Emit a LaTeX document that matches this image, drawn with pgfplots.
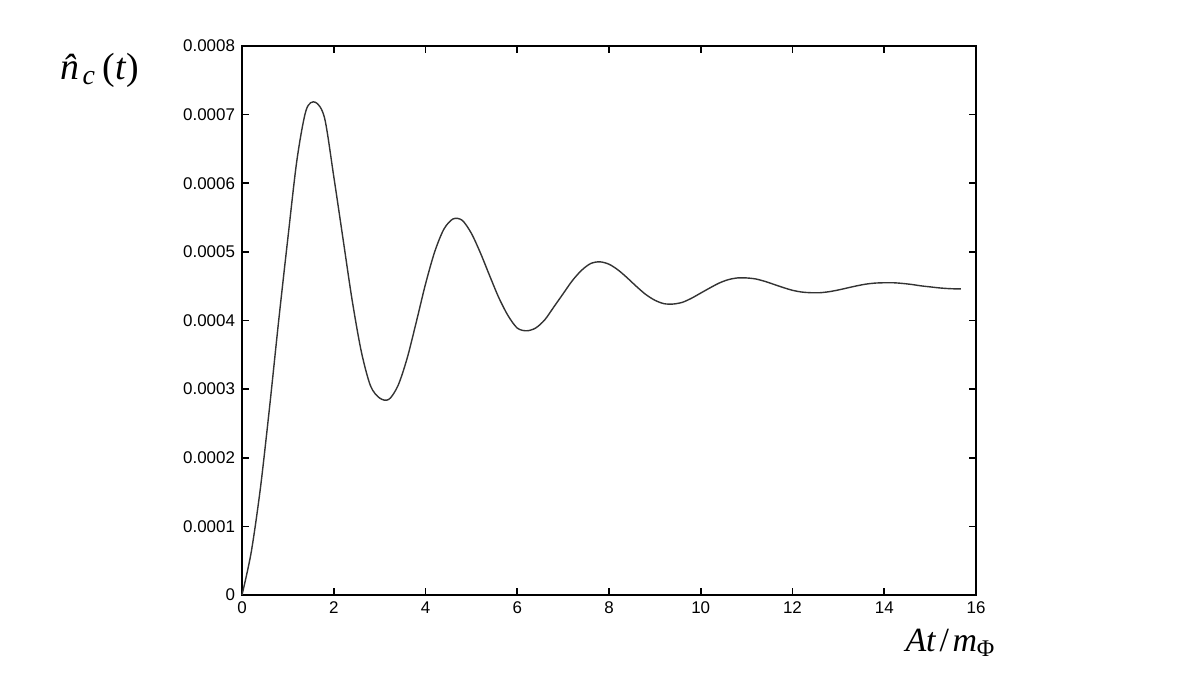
\documentclass[border=0pt]{standalone}
\usepackage{fontspec}
\setmainfont{Liberation Sans}
\newfontfamily\timesfont{Liberation Serif}
\usepackage{pgfplots}
\pgfplotsset{compat=1.18}

\begin{document}
\begin{tikzpicture}
\begin{axis}[
  scale only axis,
  width=367bp, height=274.5bp,
  xmin=0, xmax=16, ymin=0, ymax=0.0008,
  xtick={0,2,4,6,8,10,12,14,16},
  ytick={0,0.0001,0.0002,0.0003,0.0004,0.0005,0.0006,0.0007,0.0008},
  yticklabels={0,0.0001,0.0002,0.0003,0.0004,0.0005,0.0006,0.0007,0.0008},
  scaled y ticks=false,
  axis line style={line width=0.9bp},
  major tick style={line width=0.8bp, black},
  major tick length=3.5bp,
  tick align=inside,
  ticklabel style={font=\fontsize{8.5}{10}\selectfont},
  /pgf/number format/assume math mode=true,
  clip=false,
]
\addplot[line width=0.7bp, color=black!80, smooth, no markers] coordinates {
  (0,0) (0.2,0.000062) (0.4,0.000155) (0.6,0.000273) (0.8,0.0004)
  (1.0,0.00052) (1.2,0.000635) (1.4,0.000707) (1.6,0.000718) (1.8,0.000695)
  (2.0,0.00061) (2.2,0.00052) (2.4,0.00043) (2.6,0.000355) (2.8,0.000305)
  (3.0,0.000287) (3.2,0.000285) (3.4,0.000305) (3.6,0.000345) (3.8,0.000398)
  (4.0,0.000453) (4.2,0.0005) (4.4,0.000533) (4.6,0.000548) (4.8,0.000546)
  (5.0,0.000527) (5.2,0.000498) (5.4,0.000465) (5.6,0.000433) (5.8,0.000407)
  (6.0,0.000389) (6.2,0.000385) (6.4,0.000389) (6.6,0.000401) (6.8,0.00042)
  (7.0,0.000439) (7.2,0.000458) (7.4,0.000473) (7.6,0.000483) (7.8,0.0004855)
  (8.0,0.000482) (8.2,0.0004735) (8.4,0.000462) (8.6,0.0004495) (8.8,0.000438)
  (9.0,0.0004295) (9.2,0.0004245) (9.4,0.000424) (9.6,0.0004265) (9.8,0.0004325)
  (10.0,0.00044) (10.2,0.0004475) (10.4,0.0004545) (10.6,0.0004595) (10.8,0.000462)
  (11.0,0.000462) (11.2,0.0004605) (11.4,0.000457) (11.6,0.0004525) (11.8,0.000448)
  (12.0,0.000444) (12.2,0.0004415) (12.4,0.0004405) (12.6,0.0004405) (12.8,0.000442)
  (13.0,0.0004445) (13.2,0.0004475) (13.4,0.0004505) (13.6,0.000453) (13.8,0.0004545)
  (14.0,0.000455) (14.2,0.000455) (14.4,0.000454) (14.6,0.0004525) (14.8,0.0004505)
  (15.0,0.000449) (15.2,0.0004475) (15.4,0.0004465) (15.6,0.000446) (15.67,0.000446)
};
% axis labels, Times-like italic as in the original
\node[font=\timesfont\fontsize{19}{22}\selectfont] at ([xshift=-71bp,yshift=-12bp]rel axis cs:0,1)
  {\textit{n̂}\kern-0.3em\raisebox{-0.3ex}{\fontsize{14}{16}\selectfont\textit{c}}\kern0.2em(\textit{t})};
\node[font=\timesfont\fontsize{17}{20}\selectfont] at ([xshift=-13bp,yshift=-24bp]rel axis cs:1,0)
  {\textit{At}\kern0.1em/\kern0.1em\textit{m}\raisebox{-0.3ex}{\fontsize{12}{14}\selectfont Φ}};
\end{axis}
\path ([xshift=-121bp,yshift=-39bp]current axis.south west) rectangle ([xshift=110bp,yshift=23bp]current axis.north east);
\end{tikzpicture}
\end{document}
